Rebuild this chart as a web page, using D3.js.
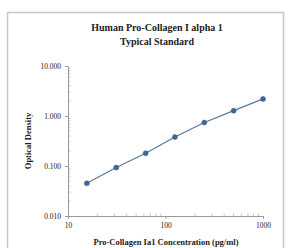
<!DOCTYPE html>
<html>
<head>
<meta charset="utf-8">
<script src="https://cdn.jsdelivr.net/npm/d3@7"></script>
<style>
  body { margin: 0; background: #fff; }
  text { font-family: "Liberation Serif", "DejaVu Serif", serif; fill: #222; }
</style>
</head>
<body>
<div id="chart"></div>
<script>
// standard curve points
const concentrations = [15.6, 31.25, 62.5, 125, 250, 500, 1000];
const opticalDensity = [0.045, 0.093, 0.18, 0.38, 0.74, 1.28, 2.2];

const xTicks = [10, 100, 1000];
const yTicks = [0.01, 0.1, 1, 10];
const titleLines = ["Human Pro-Collagen I alpha 1", "Typical Standard"];

const W = 290, H = 248;
const margin = { top: 66, left: 68 };
const width = 195;
const height = 150;

const svg = d3.select("#chart")
  .append("svg")
  .attr("width", W)
  .attr("height", H);

// outer frame
svg.append("rect")
  .attr("x", 7.5)
  .attr("y", 12.5)
  .attr("width", 276)
  .attr("height", 260)
  .attr("fill", "none")
  .attr("stroke", "#c8c8c8")
  .attr("stroke-width", 1.5);

// title
svg.selectAll(".title")
  .data(titleLines)
  .enter().append("text")
  .attr("class", "title")
  .attr("x", 157)
  .attr("y", (d, i) => 31 + i * 14)
  .attr("text-anchor", "middle")
  .style("font-size", "10px")
  .style("font-weight", "bold")
  .text(d => d);

const g = svg.append("g")
  .attr("transform", "translate(" + margin.left + "," + margin.top + ")");

const x = d3.scaleLog().domain([10, 1000]).range([0, width]);
const y = d3.scaleLog().domain([0.01, 10]).range([height, 0]);

// minor ticks (inside)
const yMinor = y.ticks().filter(v => !yTicks.includes(v));
g.selectAll(".ymin")
  .data(yMinor)
  .enter().append("line")
  .attr("x1", 0).attr("x2", 2.5)
  .attr("y1", d => y(d)).attr("y2", d => y(d))
  .attr("stroke", "#bbb").attr("stroke-width", 0.8);

const xMinor = x.ticks().filter(v => !xTicks.includes(v));
g.selectAll(".xmin")
  .data(xMinor)
  .enter().append("line")
  .attr("x1", d => x(d)).attr("x2", d => x(d))
  .attr("y1", height).attr("y2", height - 2.5)
  .attr("stroke", "#bbb").attr("stroke-width", 0.8);

// axes
const xAxis = g.append("g")
  .attr("transform", "translate(0," + height + ")")
  .call(d3.axisBottom(x).tickValues(xTicks).tickFormat(d3.format("d")).tickSize(3).tickPadding(4));

const yAxis = g.append("g")
  .call(d3.axisLeft(y).tickValues(yTicks).tickFormat(d3.format(".3f")).tickSize(3).tickPadding(4));

[xAxis, yAxis].forEach(a => {
  a.select(".domain").attr("stroke", "#999");
  a.selectAll(".tick line").attr("stroke", "#999");
  a.selectAll(".tick text")
    .style("font-family", "Liberation Serif, serif")
    .style("font-size", "7.5px")
    .attr("fill", "#333");
});

// axis titles
svg.append("text")
  .attr("x", 166)
  .attr("y", 245)
  .attr("text-anchor", "middle")
  .style("font-size", "8.5px")
  .style("font-weight", "bold")
  .text("Pro-Collagen Ia1 Concentration (pg/ml)");

svg.append("text")
  .attr("transform", "translate(31,141) rotate(-90)")
  .attr("text-anchor", "middle")
  .style("font-size", "8.5px")
  .style("font-weight", "bold")
  .text("Optical Density");

// line + markers
const pts = concentrations.map((c, i) => ({ c: c, od: opticalDensity[i] }));

const line = d3.line()
  .x(d => x(d.c))
  .y(d => y(d.od));

g.append("path")
  .datum(pts)
  .attr("d", line)
  .attr("fill", "none")
  .attr("stroke", "#56789f")
  .attr("stroke-width", 1.2);

g.selectAll(".pt")
  .data(pts)
  .enter().append("circle")
  .attr("cx", d => x(d.c))
  .attr("cy", d => y(d.od))
  .attr("r", 2.5)
  .attr("fill", "#41679a")
  .attr("stroke", "#3a5f8f")
  .attr("stroke-width", 0.5);
</script>
</body>
</html>
